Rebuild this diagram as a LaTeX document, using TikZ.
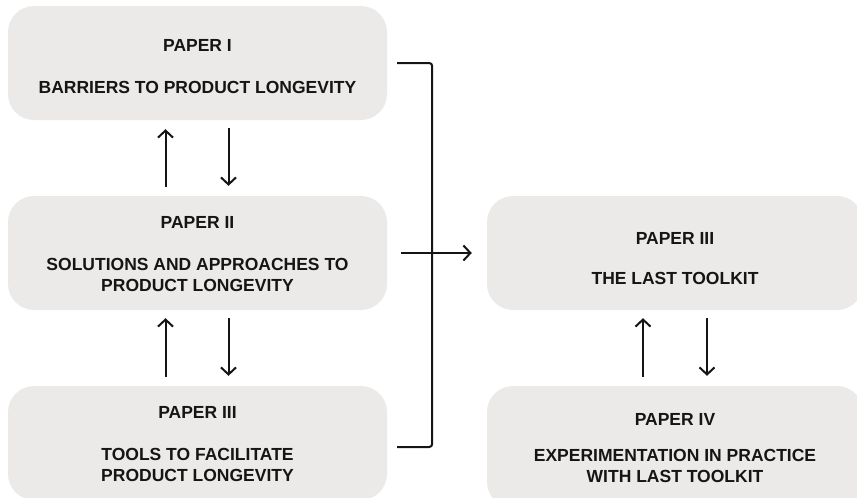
\documentclass[tikz,border=0pt]{standalone}
\usepackage{fontspec}
\setmainfont{Liberation Sans}
\usetikzlibrary{arrows.meta}
\definecolor{boxgrey}{HTML}{EBEAE8}
\definecolor{ink}{HTML}{151515}
% raise the first line's height to push a box's text block down
\newcommand{\topgap}[1]{\rule{0pt}{#1}}
\begin{document}
\begin{tikzpicture}[x=1pt,y=-1pt,
  paper/.style={fill=boxgrey, rounded corners=26pt, minimum width=379pt,
    minimum height=114pt, align=center, inner sep=0pt, text=ink,
    font=\fontsize{17.5}{21}\selectfont\bfseries},
  link/.style={draw=ink, line width=2pt,
    -{Straight Barb[length=7pt,width=15pt]}},
  rail/.style={draw=ink, line width=2pt, rounded corners=3pt}]
\useasboundingbox (0,0) rectangle (857,498);
\clip (0,0) rectangle (857,498);

% left column
\node[paper] (p1) at (197.5,63)  {\topgap{18.5pt}PAPER I\\[21pt]BARRIERS TO PRODUCT LONGEVITY};
\node[paper] (p2) at (197.5,253) {\topgap{15pt}PAPER II\\[21pt]SOLUTIONS AND APPROACHES TO\\PRODUCT LONGEVITY};
\node[paper] (p3) at (197.5,443) {\topgap{14pt}PAPER III\\[21pt]TOOLS TO FACILITATE\\PRODUCT LONGEVITY};

% right column
\node[paper, minimum width=376pt] (pa) at (675,253) {\topgap{22.5pt}PAPER III\\[19pt]THE LAST TOOLKIT};
\node[paper, minimum width=376pt, minimum height=122pt] (pb) at (675,447)
  {\topgap{14pt}PAPER IV\\[15pt]EXPERIMENTATION IN PRACTICE\\WITH LAST TOOLKIT};

% two-way links, left column
\draw[link] ([xshift=-32pt,yshift=9pt]p2.north) -- ([xshift=-32pt,yshift=-9pt]p1.south);
\draw[link] ([xshift=31pt,yshift=-8pt]p1.south) -- ([xshift=31pt,yshift=10pt]p2.north);
\draw[link] ([xshift=-32pt,yshift=9pt]p3.north) -- ([xshift=-32pt,yshift=-8pt]p2.south);
\draw[link] ([xshift=31pt,yshift=-8pt]p2.south) -- ([xshift=31pt,yshift=10pt]p3.north);

% two-way links, right column
\draw[link] ([xshift=-32pt,yshift=9pt]pb.north) -- ([xshift=-32pt,yshift=-8pt]pa.south);
\draw[link] ([xshift=32pt,yshift=-8pt]pa.south) -- ([xshift=32pt,yshift=10pt]pb.north);

% bracket gathering papers I-III into the toolkit
\draw[rail] ([xshift=10pt]p1.east) -| ([xshift=45pt,yshift=-4pt]p3.east)
  -- ([xshift=10pt,yshift=-4pt]p3.east);
\draw[link] ([xshift=14pt]p2.east) -- ([xshift=-15pt]pa.west);
\end{tikzpicture}
\end{document}
